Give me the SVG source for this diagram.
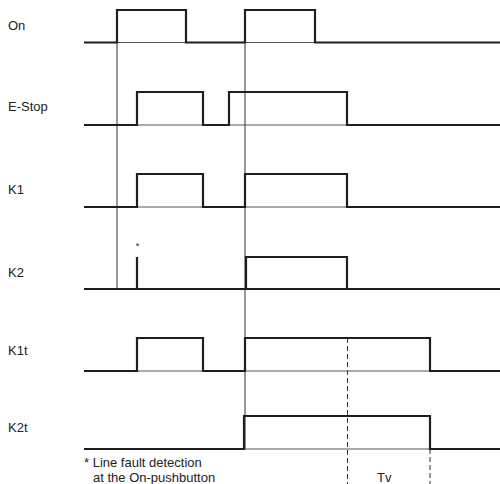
<svg xmlns="http://www.w3.org/2000/svg" width="500" height="484" viewBox="0 0 500 484">
<style>
.lbl{font-family:"Liberation Sans",Arial,sans-serif;font-size:13px;fill:#222}
.base{stroke:#555;stroke-width:1;fill:none}
.sig{stroke:#1e1e1e;stroke-width:2.2;fill:none;stroke-linejoin:miter}
.ref{stroke:#333;stroke-width:1;fill:none}
.dash{stroke:#333;stroke-width:1;fill:none;stroke-dasharray:5 3}
</style>
<rect width="500" height="484" fill="#fff"/>
<g id="connectors">
<line class="ref" x1="117" y1="10" x2="117" y2="289"/>
<line class="ref" x1="245" y1="10" x2="245" y2="449"/>
<line class="dash" x1="347.5" y1="338" x2="347.5" y2="484"/>
<line class="dash" x1="430" y1="449" x2="430" y2="484"/>
</g>
<g id="sig-on">
<text class="lbl" x="8" y="30">On</text>
<line class="base" x1="84" y1="42.5" x2="500" y2="42.5"/>
<path class="sig" d="M84,42.5 H117 V10 H186 V42.5 H245 V10 H315 V42.5 H500"/>
</g>
<g id="sig-estop">
<text class="lbl" x="8" y="111">E-Stop</text>
<line class="base" x1="84" y1="125" x2="500" y2="125"/>
<path class="sig" d="M84,125 H137 V92 H203 V125 H229 V92 H347 V125 H500"/>
</g>
<g id="sig-k1">
<text class="lbl" x="8" y="194">K1</text>
<line class="base" x1="84" y1="207" x2="500" y2="207"/>
<path class="sig" d="M84,207 H137 V174 H203 V207 H245 V174 H347 V207 H500"/>
</g>
<g id="sig-k2">
<text class="lbl" x="8" y="277">K2</text>
<line class="base" x1="84" y1="289" x2="500" y2="289"/>
<path class="sig" d="M84,289 H500 M137,289 V257 M246,289 V257 H347 V289"/>
<text class="lbl" x="137.5" y="249" text-anchor="middle" style="font-size:9px">*</text>
</g>
<g id="sig-k1t">
<text class="lbl" x="8" y="355">K1t</text>
<line class="base" x1="84" y1="371" x2="500" y2="371"/>
<path class="sig" d="M84,371 H137 V338 H203 V371 H245 V338 H430 V371 H500"/>
</g>
<g id="sig-k2t">
<text class="lbl" x="8" y="432">K2t</text>
<line class="base" x1="84" y1="449" x2="500" y2="449"/>
<path class="sig" d="M84,449 H244 V416 H430 V449 H500"/>
</g>
<g id="notes">
<text class="lbl" x="84" y="466.5">* Line fault detection</text>
<text class="lbl" x="93" y="481.5">at the On-pushbutton</text>
<text class="lbl" x="377" y="482">Tv</text>
</g>
</svg>
